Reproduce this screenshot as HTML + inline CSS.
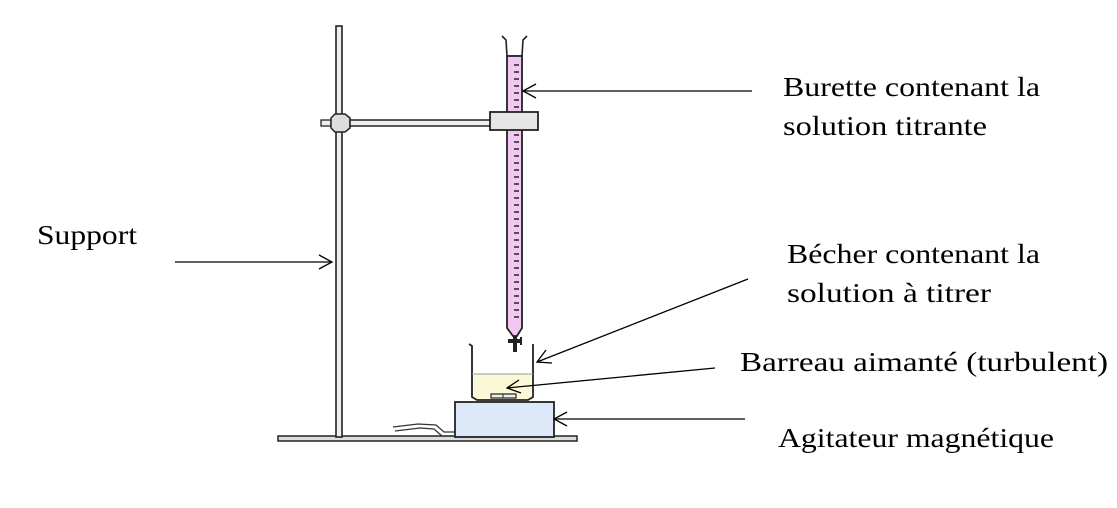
<!DOCTYPE html>
<html><head><meta charset="utf-8"><style>html,body{margin:0;padding:0;background:#fff}svg{display:block}text{font-family:"Liberation Serif",serif}</style></head>
<body>
<svg width="1117" height="508" viewBox="0 0 1117 508" xmlns="http://www.w3.org/2000/svg" font-size="27" fill="#000">
<rect width="1117" height="508" fill="#fff"/>
<rect x="278" y="436" width="299" height="5" fill="#ddd" stroke="#222" stroke-width="1.5"/>
<rect x="336" y="26" width="6" height="411" fill="#eee" stroke="#222" stroke-width="1.6"/>
<rect x="321" y="120" width="10" height="6" fill="#eee" stroke="#222" stroke-width="1.3"/>
<polygon points="331,118 335,114 345,114 350,118 350,128 345,132 335,132 331,128" fill="#ddd" stroke="#222" stroke-width="1.5"/>
<rect x="350" y="120" width="141" height="6" fill="#eee" stroke="#222" stroke-width="1.5"/>
<path d="M502,36 L506,40 L507,56 L522,56 L523,40 L527,36" fill="none" stroke="#222" stroke-width="1.6"/>
<path d="M507,56 L522,56 L522,328 L517,336 L513,336 L507,328 Z" fill="#f3c8f0" stroke="#222" stroke-width="1.8"/>
<g stroke="#222" stroke-width="1.5">
<path d="M514,65h5M514,72h5M514,79h5M514,86h5M514,93h5M514,100h5M514,107h5M514,114h5M514,135h5M514,142h5M514,149h5M514,156h5M514,163h5M514,170h5M514,177h5M514,184h5M514,191h5M514,198h5M514,205h5M514,212h5M514,219h5M514,226h5M514,233h5M514,240h5M514,247h5M514,254h5M514,261h5M514,268h5M514,275h5M514,282h5M514,289h5M514,296h5M514,303h5M514,310h5M514,317h5"/>
</g>
<rect x="490" y="112" width="48" height="18" fill="#e6e6e6" stroke="#222" stroke-width="1.8"/>
<rect x="513" y="336" width="4" height="16" fill="#222"/>
<rect x="508" y="339" width="14" height="4" fill="#222"/>
<rect x="520" y="337" width="2" height="8" fill="#222"/>
<path d="M474,374 L531,374 L531,397 L527,400 L478,400 L474,397 Z" fill="#fbf8d8"/>
<path d="M469,344 L472,346 L472,397 L477,400 L528,400 L533,397 L533,344" fill="none" stroke="#222" stroke-width="1.8"/>
<line x1="472" y1="374" x2="533" y2="374" stroke="#999" stroke-width="1"/>
<rect x="491" y="394" width="25" height="4" fill="#eee" stroke="#222" stroke-width="1.2"/>
<line x1="503" y1="394" x2="503" y2="398" stroke="#222"/>
<rect x="455" y="402" width="99" height="35" fill="#dde9f8" stroke="#222" stroke-width="1.8"/>
<path d="M393,427 L418,424 L436,425 L444,432 L455,432 M395,431 L420,428 L434,429 L442,436 L455,436" fill="none" stroke="#333" stroke-width="1.2"/>
<g stroke="#000" stroke-width="1.3" fill="none">
<line x1="752" y1="91" x2="523" y2="91"/><path d="M536,84 L523,91 L536,98"/>
<line x1="175" y1="262" x2="332" y2="262"/><path d="M319,255 L332,262 L319,269"/>
<line x1="748" y1="279" x2="537" y2="362"/><path d="M546,350 L537,362 L552,363"/>
<line x1="715" y1="368" x2="507" y2="388"/><path d="M519,380 L507,388 L521,393"/>
<line x1="745" y1="419" x2="554" y2="419"/><path d="M567,412 L554,419 L567,426"/>
</g>
<text x="783" y="96" textLength="257" lengthAdjust="spacingAndGlyphs">Burette contenant la</text>
<text x="783" y="135" textLength="204" lengthAdjust="spacingAndGlyphs">solution titrante</text>
<text x="37" y="244" textLength="100" lengthAdjust="spacingAndGlyphs">Support</text>
<text x="787" y="263" textLength="253" lengthAdjust="spacingAndGlyphs">Bécher contenant la</text>
<text x="787" y="302" textLength="204" lengthAdjust="spacingAndGlyphs">solution à titrer</text>
<text x="740" y="371" textLength="368" lengthAdjust="spacingAndGlyphs">Barreau aimanté (turbulent)</text>
<text x="778" y="447" textLength="276" lengthAdjust="spacingAndGlyphs">Agitateur magnétique</text>
</svg>
</body></html>
